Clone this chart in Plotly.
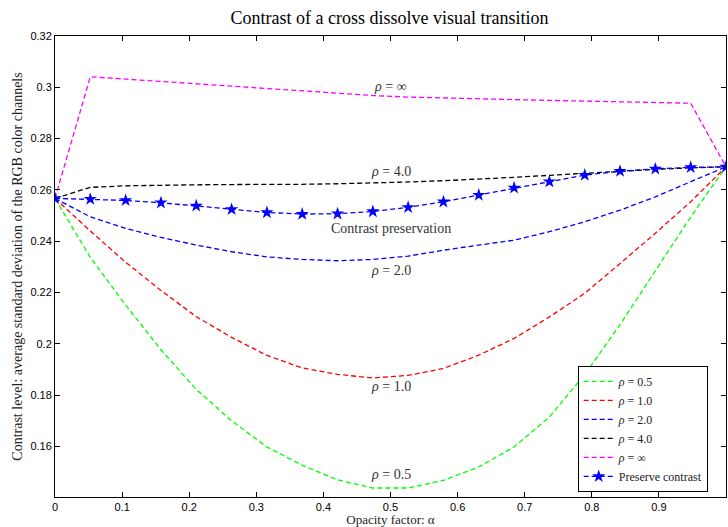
import plotly.graph_objects as go

# ---- data ----
alpha = [0.0, 0.0526, 0.1053, 0.1579, 0.2105, 0.2632, 0.3158, 0.3684, 0.4211, 0.4737,
         0.5263, 0.5789, 0.6316, 0.6842, 0.7368, 0.7895, 0.8421, 0.8947, 0.9474, 1.0]

rho_05 = [0.2567, 0.2337, 0.2151, 0.1977, 0.1822, 0.1700, 0.1598, 0.1527, 0.1470, 0.1438,
          0.1438, 0.1468, 0.1520, 0.1598, 0.1715, 0.1880, 0.2075, 0.2285, 0.2495, 0.2690]
rho_10 = [0.2567, 0.2440, 0.2318, 0.2208, 0.2106, 0.2025, 0.1955, 0.1906, 0.1881, 0.1867,
          0.1877, 0.1904, 0.1956, 0.2021, 0.2105, 0.2197, 0.2313, 0.2431, 0.2554, 0.2690]
rho_20 = [0.2567, 0.2495, 0.2450, 0.2415, 0.2385, 0.2359, 0.2339, 0.2329, 0.2324, 0.2329,
          0.2342, 0.2365, 0.2385, 0.2404, 0.2437, 0.2476, 0.2521, 0.2573, 0.2632, 0.2690]
rho_40 = [0.2567, 0.2610, 0.2616, 0.2619, 0.2620, 0.2621, 0.2621, 0.2622, 0.2624, 0.2627,
          0.2631, 0.2636, 0.2642, 0.2649, 0.2657, 0.2665, 0.2673, 0.2680, 0.2686, 0.2690]
rho_inf = [0.2567, 0.3041, 0.3032, 0.3023, 0.3014, 0.3005, 0.2996, 0.2986, 0.2977, 0.2968,
           0.2962, 0.2958, 0.2955, 0.2952, 0.2949, 0.2946, 0.2943, 0.2940, 0.2938, 0.2690]
preserve = [0.2567, 0.2564, 0.2559, 0.2550, 0.2538, 0.2524, 0.2512, 0.2506, 0.2507, 0.2516,
            0.2532, 0.2554, 0.2580, 0.2608, 0.2632, 0.2658, 0.2673, 0.2682, 0.2688, 0.2690]

series_names = ["<i>ρ</i> = 0.5", "<i>ρ</i> = 1.0", "<i>ρ</i> = 2.0", "<i>ρ</i> = 4.0", "<i>ρ</i> = ∞",
                "Preserve contrast"]
series_colors = ["#00ff00", "#ff0000", "#0000ff", "#000000", "#ff00ff", "#0000ff"]

x_tickvals = [0, 0.1, 0.2, 0.3, 0.4, 0.5, 0.6, 0.7, 0.8, 0.9, 1.0]
x_ticktext = ["0", "0.1", "0.2", "0.3", "0.4", "0.5", "0.6", "0.7", "0.8", "0.9", "1"]
y_tickvals = [0.16, 0.18, 0.20, 0.22, 0.24, 0.26, 0.28, 0.30, 0.32]
y_ticktext = ["0.16", "0.18", "0.2", "0.22", "0.24", "0.26", "0.28", "0.3", "0.32"]

curve_labels = ["<i>ρ</i> = ∞", "<i>ρ</i> = 4.0", "Contrast preservation", "<i>ρ</i> = 2.0",
                "<i>ρ</i> = 1.0", "<i>ρ</i> = 0.5"]
curve_label_x = [0.5, 0.5, 0.5, 0.5, 0.5, 0.5]
curve_label_y = [0.3005, 0.2673, 0.2450, 0.2287, 0.1832, 0.1492]

SERIF = "Liberation Serif, Times New Roman, serif"
SANS = "Liberation Sans, Arial, sans-serif"
DASH = "5px,3px"

fig = go.Figure()
for name, ys, col in zip(series_names[:5], [rho_05, rho_10, rho_20, rho_40, rho_inf], series_colors[:5]):
    fig.add_trace(go.Scatter(x=alpha, y=ys, mode="lines", name=name,
                             line=dict(color=col, width=1.3, dash=DASH)))
fig.add_trace(go.Scatter(x=alpha, y=preserve, mode="lines+markers", name=series_names[5],
                         line=dict(color=series_colors[5], width=1.3, dash=DASH),
                         marker=dict(symbol="star", size=10, color=series_colors[5],
                                     line=dict(width=0))))

for t, lx, ly in zip(curve_labels, curve_label_x, curve_label_y):
    fig.add_annotation(x=lx, y=ly, text=t, showarrow=False, xref="x", yref="y",
                       font=dict(family=SERIF, size=14, color="#333333"))

fig.update_layout(
    width=728, height=527,
    margin=dict(l=55, r=2, t=36, b=30, autoexpand=False),
    paper_bgcolor="white", plot_bgcolor="white",
    title=dict(text="Contrast of a cross dissolve visual transition", x=0.535, xanchor="center",
               y=0.966, yanchor="middle", font=dict(family=SERIF, size=18, color="black")),
    showlegend=True,
    legend=dict(x=0.779, y=0.011, xanchor="left", yanchor="bottom",
                bgcolor="white", bordercolor="black", borderwidth=1,
                font=dict(family=SERIF, size=12, color="#222222"),
                itemwidth=30, tracegroupgap=0),
)
fig.update_xaxes(range=[0, 1], tickvals=x_tickvals, ticktext=x_ticktext,
                 showline=True, linecolor="black", linewidth=1, mirror="ticks",
                 ticks="inside", ticklen=5, tickcolor="black", showgrid=False, zeroline=False,
                 tickfont=dict(family=SANS, size=11, color="black"),
                 title=dict(text="Opacity factor: α", standoff=2,
                            font=dict(family=SERIF, size=13, color="#222222")))
fig.update_yaxes(range=[0.1403, 0.32], tickvals=y_tickvals, ticktext=y_ticktext,
                 showline=True, linecolor="black", linewidth=1, mirror="ticks",
                 ticks="inside", ticklen=5, tickcolor="black", showgrid=False, zeroline=False,
                 tickfont=dict(family=SANS, size=11, color="black"),
                 title=dict(text="Contrast level: average standard deviation of the RGB color channels",
                            standoff=4, font=dict(family=SERIF, size=14, color="#222222")))

fig.write_html("out.html", config={"displayModeBar": False},
               post_script="document.body.style.margin='0';document.body.style.overflow='hidden';")
